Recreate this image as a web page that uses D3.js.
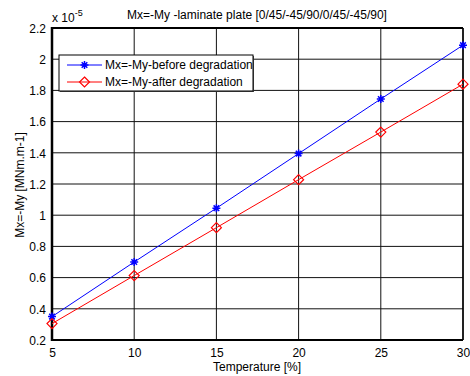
<!DOCTYPE html>
<html>
<head>
<meta charset="utf-8">
<script src="https://cdn.jsdelivr.net/npm/d3@7"></script>
<style>
  body { margin: 0; background: #fff; }
  text { font-family: "Liberation Sans", Arial, sans-serif; font-size: 12px; fill: #000; }
</style>
</head>
<body>
<div id="chart"></div>
<script>
// data (moment values in units of 1e-5)
var temps = [5, 10, 15, 20, 25, 30];
var before = [0.35, 0.70, 1.045, 1.395, 1.745, 2.09];
var after = [0.305, 0.613, 0.92, 1.228, 1.533, 1.84];
var xTicks = [5, 10, 15, 20, 25, 30];
var yTicks = [0.2, 0.4, 0.6, 0.8, 1, 1.2, 1.4, 1.6, 1.8, 2, 2.2];
var seriesNames = ["Mx=-My-before degradation", "Mx=-My-after degradation"];

var width = 470, height = 376;
var m = { left: 52, top: 28, right: 7, bottom: 36 };

var svg = d3.select("#chart").append("svg")
    .attr("width", width)
    .attr("height", height);

var x = d3.scaleLinear().domain([5, 30]).range([m.left, width - m.right]);
var y = d3.scaleLinear().domain([0.2, 2.2]).range([height - m.bottom, m.top]);

// grid
svg.append("g").selectAll("line").data(xTicks).enter().append("line")
    .attr("x1", function (d) { return x(d); }).attr("x2", function (d) { return x(d); })
    .attr("y1", y(0.2)).attr("y2", y(2.2))
    .attr("stroke", "#111").attr("stroke-width", 1);
svg.append("g").selectAll("line").data(yTicks).enter().append("line")
    .attr("y1", function (d) { return y(d); }).attr("y2", function (d) { return y(d); })
    .attr("x1", x(5)).attr("x2", x(30))
    .attr("stroke", "#111").attr("stroke-width", 1);

// axes
var xAxis = svg.append("g")
    .attr("transform", "translate(0," + y(0.2) + ")")
    .call(d3.axisBottom(x).tickValues(xTicks).tickSize(0).tickPadding(8).tickFormat(d3.format("d")));
var yAxis = svg.append("g")
    .attr("transform", "translate(" + x(5) + ",0)")
    .call(d3.axisLeft(y).tickValues(yTicks).tickSize(0).tickPadding(6).tickFormat(function (d) { return d3.format("")(+d.toFixed(1)); }));
[xAxis, yAxis].forEach(function (a) {
    a.select(".domain").remove();
    a.selectAll("text").style("font-size", "12px").attr("fill", "#000");
});
xAxis.selectAll("text").attr("dy", "0.71em");
yAxis.selectAll("text").attr("dy", "0.35em");

// box
svg.append("line").attr("x1", x(5)).attr("x2", x(5)).attr("y1", y(2.2) - 1).attr("y2", y(0.2) + 1)
    .attr("stroke", "#000").attr("stroke-width", 2.5);
svg.append("line").attr("x1", x(5)).attr("x2", x(30)).attr("y1", y(0.2)).attr("y2", y(0.2))
    .attr("stroke", "#000").attr("stroke-width", 2);
svg.append("line").attr("x1", x(5)).attr("x2", x(30)).attr("y1", y(2.2)).attr("y2", y(2.2))
    .attr("stroke", "#000").attr("stroke-width", 2);
svg.append("line").attr("x1", x(30)).attr("x2", x(30)).attr("y1", y(2.2)).attr("y2", y(0.2))
    .attr("stroke", "#000").attr("stroke-width", 1.5);

// exponent
var ex = svg.append("text").attr("x", x(5)).attr("y", 22);
ex.append("tspan").text("x 10");
ex.append("tspan").attr("dy", -6).style("font-size", "9px").text("-5");

// title and labels
svg.append("text").attr("x", 257).attr("y", 19).attr("text-anchor", "middle")
    .text("Mx=-My -laminate plate [0/45/-45/90/0/45/-45/90]");
svg.append("text").attr("x", 257).attr("y", 371).attr("text-anchor", "middle")
    .text("Temperature [%]");
svg.append("text").attr("transform", "translate(24," + 185 + ") rotate(-90)")
    .attr("text-anchor", "middle").text("Mx=-My [MNm.m-1]");

// lines
var line = d3.line().x(function (d) { return x(d[0]); }).y(function (d) { return y(d[1]); });
var series = [
    { name: seriesNames[0], values: before, color: "#0000ff", marker: "star" },
    { name: seriesNames[1], values: after, color: "#ff0000", marker: "diamond" }
];

function drawMarker(g, type, color) {
    if (type === "star") {
        var s = 4;
        g.append("path")
            .attr("d", "M" + (-s) + ",0H" + s + "M0," + (-s) + "V" + s +
                "M" + (-s * 0.7) + "," + (-s * 0.7) + "L" + (s * 0.7) + "," + (s * 0.7) +
                "M" + (-s * 0.7) + "," + (s * 0.7) + "L" + (s * 0.7) + "," + (-s * 0.7))
            .attr("stroke", color).attr("stroke-width", 1.5).attr("fill", "none");
    } else {
        var r = 5;
        g.append("path")
            .attr("d", "M0," + (-r) + "L" + r + ",0L0," + r + "L" + (-r) + ",0Z")
            .attr("stroke", color).attr("stroke-width", 1.2).attr("fill", "none");
    }
}

series.forEach(function (s) {
    var pts = temps.map(function (t, i) { return [t, s.values[i]]; });
    svg.append("path").datum(pts).attr("d", line)
        .attr("fill", "none").attr("stroke", s.color).attr("stroke-width", 1);
    pts.forEach(function (p) {
        var g = svg.append("g").attr("transform", "translate(" + x(p[0]) + "," + y(p[1]) + ")");
        drawMarker(g, s.marker, s.color);
    });
});

// legend
var leg = svg.append("g").attr("transform", "translate(59,55)");
leg.append("rect").attr("x", 1).attr("y", 1).attr("width", 194).attr("height", 36).attr("fill", "#555");
leg.append("rect").attr("width", 194).attr("height", 36).attr("fill", "#fff")
    .attr("stroke", "#000").attr("stroke-width", 1);
series.forEach(function (s, i) {
    var yy = 10 + i * 17;
    leg.append("line").attr("x1", 8).attr("x2", 43).attr("y1", yy).attr("y2", yy)
        .attr("stroke", s.color).attr("stroke-width", 1);
    drawMarker(leg.append("g").attr("transform", "translate(25.5," + yy + ")"), s.marker, s.color);
    leg.append("text").attr("x", 46).attr("y", yy).attr("dy", "0.35em").text(s.name);
});
</script>
</body>
</html>
